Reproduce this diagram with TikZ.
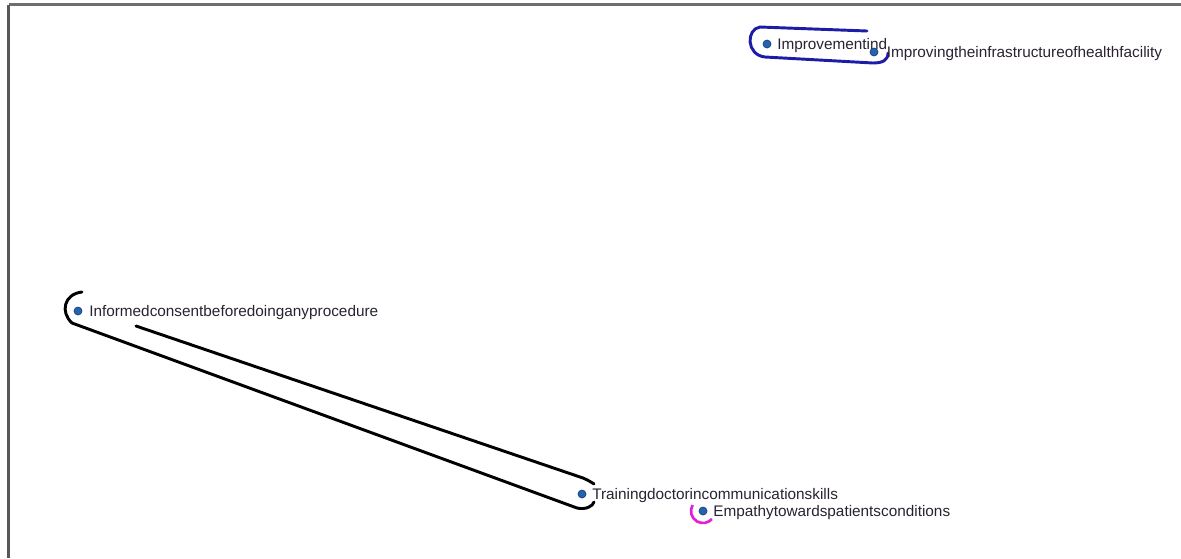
\documentclass[tikz,border=0pt]{standalone}
\usepackage{fontspec}
\setmainfont{Liberation Sans}
\usetikzlibrary{calc}
\definecolor{dotfill}{HTML}{2463B0}
\definecolor{dotline}{HTML}{163C78}
\definecolor{txt}{HTML}{2A2230}
\definecolor{loopblue}{HTML}{1C1CA8}
\definecolor{loopmag}{HTML}{E020D8}
\definecolor{framecol}{HTML}{6E6E6E}
\begin{document}
\begin{tikzpicture}[x=0.75pt,y=-0.75pt,
  vdot/.style={circle,fill=dotfill,draw=dotline,line width=0.5pt,minimum size=6pt,inner sep=0pt},
  vlab/.style={anchor=base west,inner sep=0pt,text=txt,font=\fontsize{11.5pt}{13pt}\selectfont},
  loopline/.style={line width=2.2pt,line cap=round,line join=round}]
\useasboundingbox (0,0) rectangle (1181,558);
% frame
\draw[framecol,line width=1.6pt] (8.5,4.5) -- (1181,4.5);
\draw[framecol!80!black,line width=1.6pt] (8.5,4.5) -- (8.5,558);
% vertices
\node[vdot] (imp) at (767,44) {};
\node[vdot] (inf) at (78,311) {};
\node[vdot] (tra) at (582,494) {};
\node[vdot] (emp) at (703,511) {};
% loops (drawn before the later labels)
\coordinate (b1) at ($(imp)+(100,-13)$);
\draw[loopblue,loopline] (b1) -- (760,27) .. controls (746,29) and (746,55) .. (765,57) -- (873,63) .. controls (883,63) and (888,60) .. ($(imp)+(121,9)$);
\node[vlab] (limp) at (777,49) {Improvementind};
\node[vdot] (imi) at (874,52) {};
\node[vlab] (limi) at (886.5,57) {Improvingtheinfrastructureofhealthfacility};
\node[vlab] (linf) at (89,316) {Informedconsentbeforedoinganyprocedure};
\coordinate (k1) at ($(inf)+(58,15)$);
\draw[black,loopline] (k1) -- (583,478) .. controls (590,481) and (594,484) .. ($(tra)+(12,-10)$);
\draw[black,loopline] (82,292) .. controls (64,294) and (60,312) .. (72,323) -- (577,508) .. controls (586,510) and (593,506) .. ($(tra)+(12,8)$);
\node[vlab] (ltra) at (592,499) {Trainingdoctorincommunicationskills};
\draw[loopmag,line width=2pt] ($(emp)+(210:12)$) arc[start angle=210,end angle=42,radius=12];
\node[vlab] (lemp) at (713,516) {Empathytowardspatientsconditions};
\end{tikzpicture}
\end{document}
